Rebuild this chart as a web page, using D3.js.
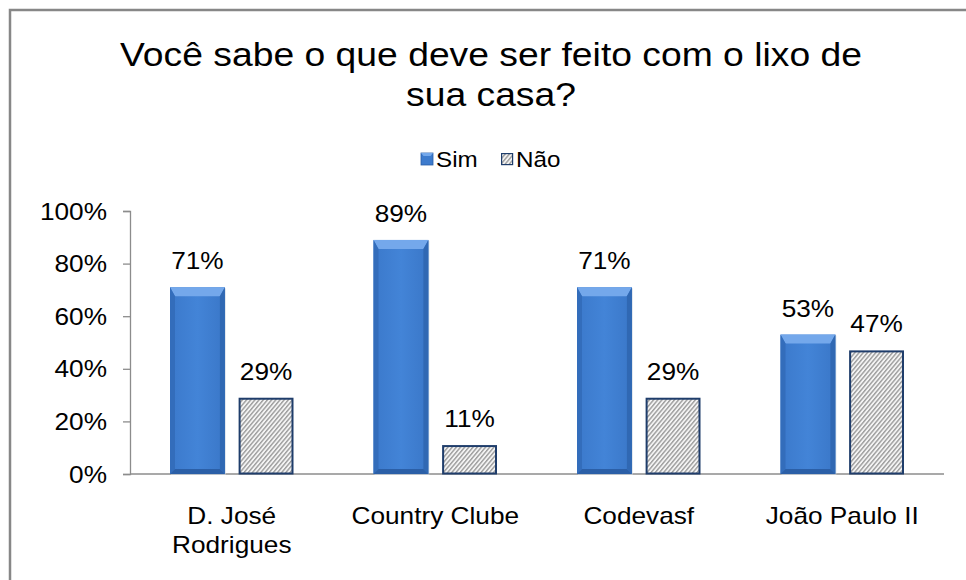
<!DOCTYPE html>
<html>
<head>
<meta charset="utf-8">
<script src="https://cdn.jsdelivr.net/npm/d3@7"></script>
<style>
  html, body { margin: 0; padding: 0; background: #fff; }
  svg { display: block; }
  text { font-family: "Liberation Sans", Arial, sans-serif; fill: #000; }
</style>
</head>
<body>
<svg id="chart" width="966" height="580"></svg>
<script>
// Survey data: "Você sabe o que deve ser feito com o lixo de sua casa?"
const categories = [["D. José", "Rodrigues"], ["Country Clube"], ["Codevasf"], ["João Paulo II"]];
const seriesNames = ["Sim", "Não"];
const simValues = [71, 89, 71, 53];
const naoValues = [29, 11, 29, 47];
const yTicks = [0, 20, 40, 60, 80, 100];
const titleLines = ["Você sabe o que deve ser feito com o lixo de", "sua casa?"];

const svg = d3.select("#chart");
const W = 966, H = 580;
const SX = 1.14;        // slightly widened lettering
const FS = 23;          // body font size

// place a text at (x, y) with horizontal widening
function placeText(sel, x, y, sx = SX) {
  return sel.attr("transform", `translate(${x},${y}) scale(${sx},1)`);
}

// Outer frame (only top and left edges fall inside the canvas)
svg.append("path")
  .attr("d", `M10,${H + 5} L10,10 L${W + 5},10`)
  .attr("fill", "none").attr("stroke", "#878787").attr("stroke-width", 2.5);

const defs = svg.append("defs");
// Fine diagonal hatch for the "Não" series
const pat = defs.append("pattern")
  .attr("id", "hatch").attr("patternUnits", "userSpaceOnUse")
  .attr("width", 3.2).attr("height", 3.2)
  .attr("patternTransform", "rotate(-50)");
pat.append("rect").attr("width", 3.2).attr("height", 3.2).attr("fill", "#f4f4f4");
pat.append("rect").attr("width", 3.2).attr("height", 1.4).attr("fill", "#9c9c9c");

// Horizontal gradient for the bevelled "Sim" bars
const g1 = defs.append("linearGradient").attr("id", "simFace").attr("x1", 0).attr("x2", 1).attr("y1", 0).attr("y2", 0);
g1.append("stop").attr("offset", 0).attr("stop-color", "#3b79cb");
g1.append("stop").attr("offset", 0.5).attr("stop-color", "#4384d7");
g1.append("stop").attr("offset", 1).attr("stop-color", "#3a77c8");

// Title
titleLines.forEach((line, k) => {
  placeText(svg.append("text"), 491, 66 + k * 40, 1.13)
    .attr("text-anchor", "middle").attr("font-size", 33).text(line);
});

// Scales
const x0 = d3.scaleBand().domain(d3.range(categories.length)).range([130, 944]);
const x1 = d3.scaleBand().domain(seriesNames).range([40, x0.bandwidth() - 40]).paddingInner(0.2);
const y = d3.scaleLinear().domain([0, 100]).range([474, 211]);

// Y axis
const yAxis = svg.append("g").attr("transform", "translate(130,0)")
  .call(d3.axisLeft(y).tickValues(yTicks).tickFormat(d => d + "%").tickSize(7));
yAxis.select(".domain").attr("stroke", "#8c8c8c").attr("stroke-width", 1.3);
yAxis.selectAll(".tick line").attr("stroke", "#8c8c8c").attr("stroke-width", 1.3);
yAxis.selectAll(".tick text")
  .attr("font-size", FS).attr("font-family", "Liberation Sans, Arial, sans-serif").attr("fill", "#000")
  .attr("x", null).attr("dy", null)
  .attr("transform", `translate(-23,8) scale(${SX},1)`);

// X axis baseline
svg.append("line").attr("x1", 130).attr("x2", 944).attr("y1", y(0)).attr("y2", y(0))
  .attr("stroke", "#8c8c8c").attr("stroke-width", 1.3);

const rows = categories.map((c, i) => ({ i, values: [simValues[i], naoValues[i]] }));
const groups = svg.selectAll("g.cat").data(rows).join("g")
  .attr("class", "cat").attr("transform", d => `translate(${x0(d.i)},0)`);

groups.each(function (d) {
  const g = d3.select(this);
  const bw = x1.bandwidth();

  // Sim bar with bevelled edges
  const v = d.values[0];
  const bx = x1("Sim"), by = y(v), bh = y(0) - y(v);
  const b = 5;
  const sg = g.append("g");
  sg.append("rect").attr("x", bx + 1).attr("y", by + 1).attr("width", bw).attr("height", bh)
    .attr("fill", "#c9d3e0").attr("opacity", 0.6);
  sg.append("rect").attr("x", bx).attr("y", by).attr("width", bw).attr("height", bh).attr("fill", "url(#simFace)");
  sg.append("polygon").attr("points", [[bx, by], [bx + bw, by], [bx + bw - b, by + b * 1.8], [bx + b, by + b * 1.8]].join(" "))
    .attr("fill", "#74a8eb");
  sg.append("polygon").attr("points", [[bx, by], [bx + b, by + b * 1.8], [bx + b, by + bh - b], [bx, by + bh]].join(" "))
    .attr("fill", "#336dbb");
  sg.append("polygon").attr("points", [[bx + bw, by], [bx + bw - b, by + b * 1.8], [bx + bw - b, by + bh - b], [bx + bw, by + bh]].join(" "))
    .attr("fill", "#3068b3");
  sg.append("polygon").attr("points", [[bx, by + bh], [bx + b, by + bh - b], [bx + bw - b, by + bh - b], [bx + bw, by + bh]].join(" "))
    .attr("fill", "#2b5fa7");
  placeText(g.append("text"), bx + bw / 2, by - 18)
    .attr("text-anchor", "middle").attr("font-size", FS).text(v + "%");

  // Não bar, hatched
  const v2 = d.values[1];
  const nx = x1("Não"), ny = y(v2), nh = y(0) - y(v2);
  g.append("rect").attr("x", nx + 1).attr("y", ny + 1).attr("width", bw - 2).attr("height", nh - 1.5)
    .attr("fill", "url(#hatch)").attr("stroke", "#1f3d6b").attr("stroke-width", 2);
  placeText(g.append("text"), nx + bw / 2, ny - 18)
    .attr("text-anchor", "middle").attr("font-size", FS).text(v2 + "%");
});

// Category labels
groups.each(function (d) {
  const g = d3.select(this);
  categories[d.i].forEach((line, k) => {
    placeText(g.append("text"), x0.bandwidth() / 2, 524 + k * 29)
      .attr("text-anchor", "middle").attr("font-size", FS).text(line);
  });
});

// Legend
const legend = svg.append("g").attr("transform", "translate(421,153)");
const legendX = [0, 80];
seriesNames.forEach((s, k) => {
  const lg = legend.append("g").attr("transform", `translate(${legendX[k]},0)`);
  if (k === 0) {
    lg.append("rect").attr("width", 12).attr("height", 12).attr("fill", "#3d7bcd").attr("stroke", "#2a5ea6").attr("stroke-width", 0.8);
    lg.append("polygon").attr("points", "0,0 12,0 9.5,3 2.5,3").attr("fill", "#74a8eb");
  } else {
    lg.append("rect").attr("x", 0.6).attr("y", 0.6).attr("width", 11).attr("height", 11).attr("fill", "url(#hatch)").attr("stroke", "#1f3d6b").attr("stroke-width", 1.2);
  }
  placeText(lg.append("text"), 15, 14, 1.1).attr("font-size", 22).text(s);
});
</script>
</body>
</html>
